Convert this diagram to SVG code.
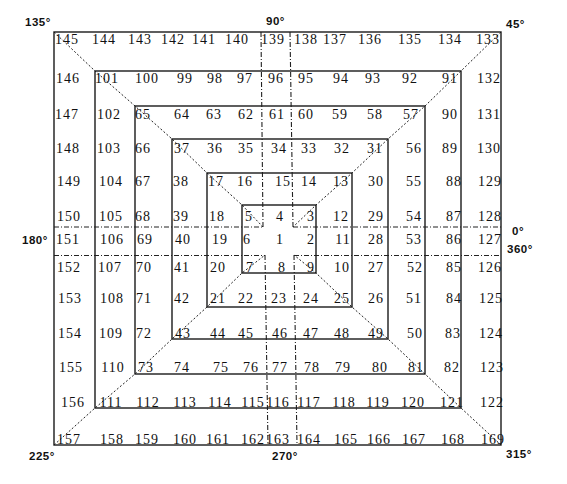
<svg xmlns="http://www.w3.org/2000/svg" width="567" height="484" viewBox="0 0 567 484">
<style>
.bg{fill:#ffffff}
.ring{fill:none;stroke:#1a1a1a;stroke-width:1.4}
.n{font-family:"Liberation Serif","Times New Roman",serif;font-size:14px;fill:#111;text-anchor:middle;letter-spacing:1px}
.a{font-family:"Liberation Sans",Arial,sans-serif;font-size:11.5px;font-weight:bold;fill:#111;letter-spacing:0.5px}
.axis{fill:none;stroke:#222;stroke-width:1.1;stroke-dasharray:5 2 1 2}
.diag{fill:none;stroke:#222;stroke-width:1;stroke-dasharray:2 2}
</style>
<rect class="bg" x="0" y="0" width="567" height="484"/>
<g id="connectors">
<path class="axis" d="M261,32 L263,227 M265,255 L268,445"/>
<path class="axis" d="M290,32 L293,227 M294,255 L297,445"/>
<path class="axis" d="M54,227 L263,227 M293,227 L501,227"/>
<path class="axis" d="M54,255.5 L265,255.5 M294,255.5 L501,255.5"/>
<polyline class="diag" points="54,32 95,71 135,106 172,139 207,173 242,205 263,227"/>
<polyline class="diag" points="501,32 461,71 425,106 388,139 352,173 316,205 293,227"/>
<polyline class="diag" points="54,445 95,408 135,374 172,339 207,307 242,273 265,255"/>
<polyline class="diag" points="501,445 461,408 425,374 388,339 352,307 316,273 294,255"/>
</g>
<g id="ring1">
<rect class="ring" x="54" y="32" width="447" height="413"/>
<text class="n" x="67" y="44">145</text><text class="n" x="104" y="44">144</text><text class="n" x="140" y="44">143</text><text class="n" x="173" y="44">142</text><text class="n" x="204" y="44">141</text><text class="n" x="237" y="44">140</text><text class="n" x="273" y="44">139</text><text class="n" x="306" y="44">138</text><text class="n" x="335" y="44">137</text><text class="n" x="370" y="44">136</text><text class="n" x="410" y="44">135</text><text class="n" x="450" y="44">134</text><text class="n" x="488" y="44">133</text>
<text class="n" x="68" y="83">146</text><text class="n" x="67" y="119">147</text><text class="n" x="68" y="153">148</text><text class="n" x="69" y="186">149</text><text class="n" x="69" y="221">150</text><text class="n" x="68" y="244">151</text><text class="n" x="69" y="272">152</text><text class="n" x="70" y="303">153</text><text class="n" x="70" y="338">154</text><text class="n" x="71" y="372">155</text><text class="n" x="73" y="407">156</text>
<text class="n" x="69" y="444">157</text><text class="n" x="112" y="444">158</text><text class="n" x="147" y="444">159</text><text class="n" x="185" y="444">160</text><text class="n" x="218" y="444">161</text><text class="n" x="253" y="444">162</text><text class="n" x="278" y="444">163</text><text class="n" x="309" y="444">164</text><text class="n" x="346" y="444">165</text><text class="n" x="379" y="444">166</text><text class="n" x="414" y="444">167</text><text class="n" x="453" y="444">168</text><text class="n" x="493" y="444">169</text>
<text class="n" x="489" y="83">132</text><text class="n" x="489" y="119">131</text><text class="n" x="489" y="153">130</text><text class="n" x="490" y="186">129</text><text class="n" x="490" y="221">128</text><text class="n" x="490" y="244">127</text><text class="n" x="490" y="272">126</text><text class="n" x="491" y="303">125</text><text class="n" x="491" y="338">124</text><text class="n" x="492" y="372">123</text><text class="n" x="492" y="407">122</text>
</g>
<g id="ring2">
<rect class="ring" x="95" y="71" width="366" height="337"/>
<text class="n" x="107" y="83">101</text><text class="n" x="147" y="83">100</text><text class="n" x="185" y="83">99</text><text class="n" x="215" y="83">98</text><text class="n" x="245" y="83">97</text><text class="n" x="276" y="83">96</text><text class="n" x="306" y="83">95</text><text class="n" x="341" y="83">94</text><text class="n" x="373" y="83">93</text><text class="n" x="410" y="83">92</text><text class="n" x="450" y="83">91</text>
<text class="n" x="109" y="119">102</text><text class="n" x="109" y="153">103</text><text class="n" x="111" y="186">104</text><text class="n" x="111" y="221">105</text><text class="n" x="112" y="244">106</text><text class="n" x="110" y="272">107</text><text class="n" x="112" y="303">108</text><text class="n" x="111" y="338">109</text><text class="n" x="113" y="372">110</text>
<text class="n" x="111" y="407">111</text><text class="n" x="148" y="407">112</text><text class="n" x="185" y="407">113</text><text class="n" x="220" y="407">114</text><text class="n" x="253" y="407">115</text><text class="n" x="278" y="407">116</text><text class="n" x="309" y="407">117</text><text class="n" x="344" y="407">118</text><text class="n" x="378" y="407">119</text><text class="n" x="413" y="407">120</text><text class="n" x="452" y="407">121</text>
<text class="n" x="450" y="119">90</text><text class="n" x="450" y="153">89</text><text class="n" x="454" y="186">88</text><text class="n" x="454" y="221">87</text><text class="n" x="454" y="244">86</text><text class="n" x="454" y="272">85</text><text class="n" x="454" y="303">84</text><text class="n" x="453" y="338">83</text><text class="n" x="452" y="372">82</text>
</g>
<g id="ring3">
<rect class="ring" x="135" y="106" width="290" height="268"/>
<text class="n" x="143" y="119">65</text><text class="n" x="182" y="119">64</text><text class="n" x="214" y="119">63</text><text class="n" x="246" y="119">62</text><text class="n" x="277" y="119">61</text><text class="n" x="306" y="119">60</text><text class="n" x="340" y="119">59</text><text class="n" x="375" y="119">58</text><text class="n" x="411" y="119">57</text>
<text class="n" x="143" y="153">66</text><text class="n" x="143" y="186">67</text><text class="n" x="143" y="221">68</text><text class="n" x="145" y="244">69</text><text class="n" x="144" y="272">70</text><text class="n" x="144" y="303">71</text><text class="n" x="144" y="338">72</text>
<text class="n" x="146" y="372">73</text><text class="n" x="182" y="372">74</text><text class="n" x="221" y="372">75</text><text class="n" x="251" y="372">76</text><text class="n" x="280" y="372">77</text><text class="n" x="312" y="372">78</text><text class="n" x="343" y="372">79</text><text class="n" x="380" y="372">80</text><text class="n" x="416" y="372">81</text>
<text class="n" x="414" y="153">56</text><text class="n" x="414" y="186">55</text><text class="n" x="414" y="221">54</text><text class="n" x="414" y="244">53</text><text class="n" x="415" y="272">52</text><text class="n" x="414" y="303">51</text><text class="n" x="415" y="338">50</text>
</g>
<g id="ring4">
<rect class="ring" x="172" y="139" width="216" height="200"/>
<text class="n" x="182" y="153">37</text><text class="n" x="215" y="153">36</text><text class="n" x="246" y="153">35</text><text class="n" x="279" y="153">34</text><text class="n" x="309" y="153">33</text><text class="n" x="342" y="153">32</text><text class="n" x="375" y="153">31</text>
<text class="n" x="181" y="186">38</text><text class="n" x="181" y="221">39</text><text class="n" x="183" y="244">40</text><text class="n" x="182" y="272">41</text><text class="n" x="182" y="303">42</text>
<text class="n" x="183" y="338">43</text><text class="n" x="218" y="338">44</text><text class="n" x="246" y="338">45</text><text class="n" x="280" y="338">46</text><text class="n" x="311" y="338">47</text><text class="n" x="342" y="338">48</text><text class="n" x="376" y="338">49</text>
<text class="n" x="376" y="186">30</text><text class="n" x="376" y="221">29</text><text class="n" x="376" y="244">28</text><text class="n" x="376" y="272">27</text><text class="n" x="376" y="303">26</text>
</g>
<g id="ring5">
<rect class="ring" x="207" y="173" width="145" height="134"/>
<text class="n" x="216" y="186">17</text><text class="n" x="245" y="186">16</text><text class="n" x="283" y="186">15</text><text class="n" x="309" y="186">14</text><text class="n" x="341" y="186">13</text>
<text class="n" x="217" y="221">18</text><text class="n" x="220" y="244">19</text><text class="n" x="218" y="272">20</text>
<text class="n" x="218" y="303">21</text><text class="n" x="246" y="303">22</text><text class="n" x="279" y="303">23</text><text class="n" x="311" y="303">24</text><text class="n" x="342" y="303">25</text>
<text class="n" x="341" y="221">12</text><text class="n" x="343" y="244">11</text><text class="n" x="342" y="272">10</text>
</g>
<g id="ring6">
<rect class="ring" x="242" y="205" width="74" height="68"/>
<text class="n" x="249" y="221">5</text><text class="n" x="280" y="221">4</text><text class="n" x="311" y="221">3</text>
<text class="n" x="247" y="244">6</text><text class="n" x="311" y="244">2</text>
<text class="n" x="250" y="272">7</text><text class="n" x="282" y="272">8</text><text class="n" x="311" y="272">9</text>
</g>
<g id="center">
<text class="n" x="280" y="244">1</text>
</g>
<g id="angles">
<text class="a" x="25" y="26">135°</text>
<text class="a" x="266" y="25">90°</text>
<text class="a" x="506" y="28">45°</text>
<text class="a" x="22" y="244">180°</text>
<text class="a" x="512" y="235">0°</text>
<text class="a" x="507" y="253">360°</text>
<text class="a" x="29" y="460">225°</text>
<text class="a" x="272" y="460">270°</text>
<text class="a" x="506" y="458">315°</text>
</g>
</svg>
